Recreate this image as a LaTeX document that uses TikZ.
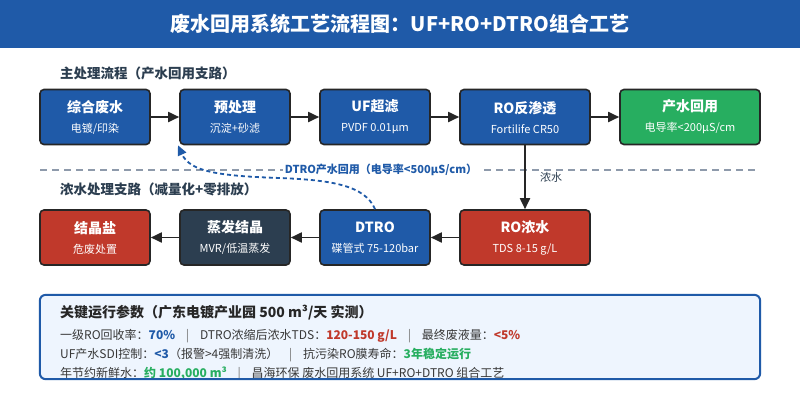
\documentclass[tikz,border=0pt]{standalone}
\usepackage{fontspec}
\setmainfont{Noto Sans CJK SC}
\usepackage{tikz}
\usetikzlibrary{positioning,arrows.meta}
\definecolor{procblue}{HTML}{1F5AA8}
\definecolor{procgreen}{HTML}{27AE60}
\definecolor{procred}{HTML}{C0392B}
\definecolor{procslate}{HTML}{2C3E50}
\definecolor{procgray}{HTML}{8E9AAB}
\definecolor{parambg}{HTML}{EEF5FE}
\definecolor{textdark}{HTML}{383838}
\tikzset{
  procbox/.style={draw=black!85, line width=1.6pt, rounded corners=4pt, align=center, text=white,
    font=\fontsize{11}{20}\selectfont, minimum height=55pt, inner sep=0pt},
  procmain/.style={procbox, fill=procblue},
  procout/.style={procbox, fill=procgreen},
  procwaste/.style={procbox, fill=procred},
  procheat/.style={procbox, fill=procslate},
  procarrow/.style={-{Triangle[length=11pt,width=10pt]}, line width=1.8pt, draw=black!85},
  proclabel/.style={font=\fontsize{11}{13}\selectfont, text=procslate},
  sectitle/.style={font=\fontsize{13.5}{16}\selectfont\bfseries, text=procslate, anchor=west, inner sep=0pt},
}
\newcommand\proctext[2]{{\fontsize{14}{17}\selectfont\bfseries #1}\\{#2}}
\newcommand\hlblue[1]{\textcolor{procblue}{\bfseries #1}}
\newcommand\hlred[1]{\textcolor{procred}{\bfseries #1}}
\newcommand\hlgreen[1]{\textcolor{procgreen}{\bfseries #1}}
\newcommand\sepbar{\hspace{0.9em}{\color{black!55}|}\hspace{0.9em}}

\begin{document}
\begin{tikzpicture}[x=1pt, y=-1pt,
    titlebar/.style={fill=procblue, text=white, minimum width=800pt, minimum height=48pt,
      inner sep=0pt, font=\fontsize{20}{24}\selectfont\bfseries},
    parambox/.style={fill=parambg, minimum width=720pt, minimum height=84pt, inner sep=0pt},
    paramedge/.style={draw=procblue, line width=2pt, rounded corners=6pt},
    paramline/.style={anchor=west, inner sep=0pt, text=textdark, font=\fontsize{12}{14}\selectfont},
    reuse/.style={draw=procblue, line width=1.8pt, dash pattern=on 4pt off 3pt,
      -{Triangle[length=10pt,width=9pt]}}]
  \useasboundingbox[fill=white] (0,0) rectangle (800,400);
  \node[titlebar] (banner) at (400,24) {废水回用系统工艺流程图：UF+RO+DTRO组合工艺};

  \node[sectitle] (maintitle) at (60,73) {主处理流程（产水回用支路）};
  \node[procmain, minimum width=110pt] (raw) at (95,117) {\proctext{综合废水}{电镀/印染}};
  \node[procmain, minimum width=110pt] (pretreat) at (235,117) {\proctext{预处理}{沉淀+砂滤}};
  \node[procmain, minimum width=110pt] (uf) at (375,117) {\proctext{UF超滤}{PVDF 0.01µm}};
  \node[procmain, minimum width=130pt] (ro) at (525,117) {\proctext{RO反渗透}{Fortilife CR50}};
  \node[procout, minimum width=140pt] (product) at (690,117) {\proctext{产水回用}{电导率<200µS/cm}};
  \draw[procarrow] (raw) -- (pretreat);
  \draw[procarrow] (pretreat) -- (uf);
  \draw[procarrow] (uf) -- (ro);
  \draw[procarrow] (ro) -- (product);

  \coordinate (sepA) at (40,170);
  \coordinate (sepB) at (757,170);
  \draw[procgray, line width=2pt, dash pattern=on 7pt off 5pt] (sepA) -- (sepB);
  \node[fill=white, inner sep=2pt, text=procblue, font=\fontsize{11}{13}\selectfont\bfseries]
    (reuselabel) at (381,170) {DTRO产水回用（电导率<500µS/cm）};

  \node[sectitle] (bracktitle) at (60,189) {浓水处理支路（减量化+零排放）};
  \node[procwaste, minimum width=130pt] (brine) at (525,237.5) {\proctext{RO浓水}{TDS 8-15 g/L}};
  \node[procmain, minimum width=110pt] (dtro) at (375,237.5) {\proctext{DTRO}{碟管式 75-120bar}};
  \node[procheat, minimum width=110pt] (evap) at (235,237.5) {\proctext{蒸发结晶}{MVR/低温蒸发}};
  \node[procwaste, minimum width=110pt] (salt) at (95,237.5) {\proctext{结晶盐}{危废处置}};
  \draw[procarrow] (ro) -- node[proclabel, anchor=west, xshift=11pt] (brinelabel) {浓水} (brine);
  \draw[procarrow] (brine) -- (dtro);
  \draw[procarrow] (dtro) -- (evap);
  \draw[procarrow] (evap) -- (salt);
  \draw[reuse] (dtro.north) .. controls (365,185) and (330,180) .. (280,178)
    .. controls (220,176) and (190,172) .. (pretreat.south -| 178,0);

  \node[parambox] (params) at (400,337) {};
  \begin{scope}
    \clip[rounded corners=6pt] (params.south west) rectangle (params.north east);
    \node[paramline, font=\fontsize{14}{17}\selectfont\bfseries, text=black!85] (paramtitle) at (60,313)
      {关键运行参数（广东电镀产业园 500 m³/天 实测）};
    \node[paramline] (paramA) at (60,336)
      {一级RO回收率：\hlblue{70\%}\sepbar DTRO浓缩后浓水TDS：\hlred{120-150 g/L}\sepbar 最终废液量：\hlred{<5\%}};
    \node[paramline] (paramB) at (60,355)
      {UF产水SDI控制：\hlblue{<3}（报警>4强制清洗）\sepbar 抗污染RO膜寿命：\hlgreen{3年稳定运行}};
    \node[paramline] (paramC) at (60,373.5)
      {年节约新鲜水：\hlgreen{约 100,000 m³}\sepbar 昌海环保 废水回用系统 UF+RO+DTRO 组合工艺};
  \end{scope}
  \draw[paramedge] (params.south west) rectangle (params.north east);
\end{tikzpicture}
\end{document}
